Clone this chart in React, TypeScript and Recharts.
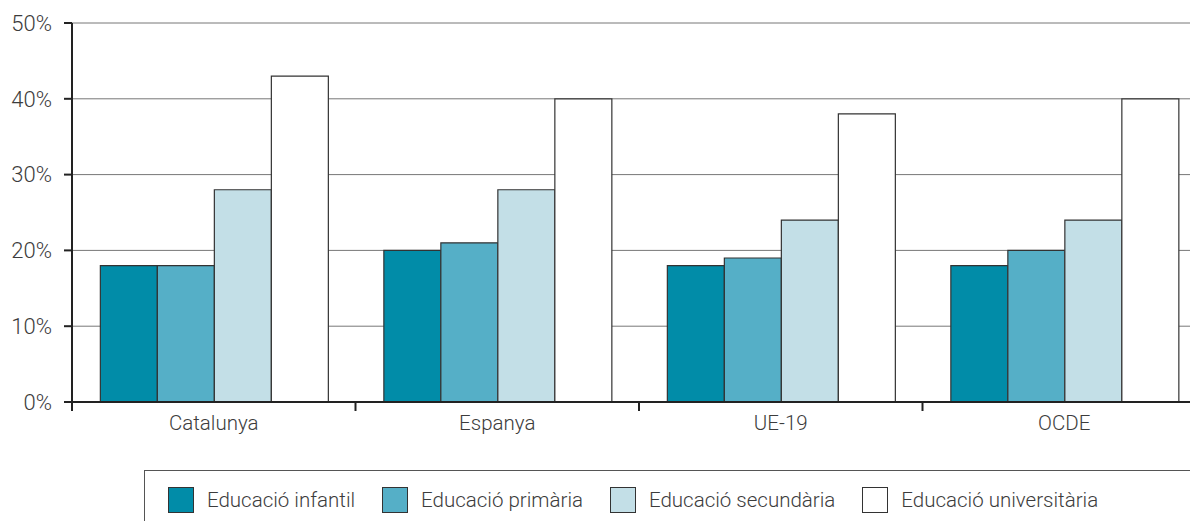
import React from 'react';
import { BarChart, Bar, XAxis, YAxis, CartesianGrid } from 'recharts';

const regions = ['Catalunya', 'Espanya', 'UE-19', 'OCDE'];
const infantil = [18, 20, 18, 18];
const primaria = [18, 21, 19, 20];
const secundaria = [28, 28, 24, 24];
const universitaria = [43, 40, 38, 40];
const yTicks = [0, 10, 20, 30, 40, 50];

const series = [
  { key: 'infantil', name: 'Educació infantil', color: '#018ca8' },
  { key: 'primaria', name: 'Educació primària', color: '#55afc7' },
  { key: 'secundaria', name: 'Educació secundària', color: '#c3dfe7' },
  { key: 'universitaria', name: 'Educació universitària', color: '#ffffff' },
];

const data = regions.map((region, i) => ({
  region,
  infantil: infantil[i],
  primaria: primaria[i],
  secundaria: secundaria[i],
  universitaria: universitaria[i],
}));

const CHART_W = 1206;
const CHART_H = 529;
const AXIS_W = 72;
const band = (CHART_W - AXIS_W) / regions.length;
const font = 'Roboto, "Liberation Sans", Arial, sans-serif';
const textColor = '#3c3c3c';

function CategoryTick(props: any) {
  const { x, y, payload } = props;
  const left = x - band / 2;
  return (
    <g>
      <line x1={left} x2={left} y1={y} y2={y + 9} stroke="#222" strokeWidth={2} />
      <text
        x={x}
        y={y + 28}
        textAnchor="middle"
        fontSize={20.5}
        fontWeight={300}
        fontFamily={font}
        fill={textColor}
      >
        {payload.value}
      </text>
    </g>
  );
}

function LegendBox() {
  return (
    <div
      style={{
        position: 'absolute',
        left: 144,
        top: 470,
        width: 1052,
        height: 80,
        border: '1px solid #555',
        boxSizing: 'border-box',
        display: 'flex',
        alignItems: 'flex-start',
        paddingLeft: 23,
        paddingTop: 16,
        fontFamily: font,
        fontWeight: 300,
        fontSize: 20.5,
        color: textColor,
      }}
    >
      {series.map((s) => (
        <div key={s.key} style={{ display: 'flex', alignItems: 'center', marginRight: 27 }}>
          <div
            style={{
              width: 26,
              height: 26,
              boxSizing: 'border-box',
              background: s.color,
              border: '1px solid #333',
              marginRight: 13,
            }}
          />
          <span>{s.name}</span>
        </div>
      ))}
    </div>
  );
}

export default function App() {
  return (
    <div style={{ margin: -8, width: 1198, height: CHART_H, overflow: 'hidden', position: 'relative', background: '#fff' }}>
      <BarChart
        width={CHART_W}
        height={CHART_H}
        data={data}
        margin={{ top: 23, right: 0, left: 0, bottom: 0 }}
        barCategoryGap="10%"
        barGap={0}
      >
        <CartesianGrid horizontal vertical={false} stroke="#777" strokeWidth={1} />
        <XAxis
          dataKey="region"
          height={127}
          axisLine={{ stroke: '#222', strokeWidth: 2 }}
          tickLine={false}
          tickSize={0}
          tickMargin={0}
          interval={0}
          tick={<CategoryTick />}
        />
        <YAxis
          width={AXIS_W}
          domain={[0, 50]}
          ticks={yTicks}
          tickFormatter={(v) => `${v}%`}
          axisLine={{ stroke: '#222', strokeWidth: 2 }}
          tickLine={{ stroke: '#222', strokeWidth: 2 }}
          tickSize={8}
          tickMargin={12}
          tick={{ fontSize: 22, fontWeight: 300, fontFamily: font, fill: textColor }}
        />
        {series.map((s) => (
          <Bar
            key={s.key}
            dataKey={s.key}
            name={s.name}
            fill={s.color}
            stroke="#333"
            strokeWidth={1.2}
            isAnimationActive={false}
          />
        ))}
      </BarChart>
      <LegendBox />
    </div>
  );
}
